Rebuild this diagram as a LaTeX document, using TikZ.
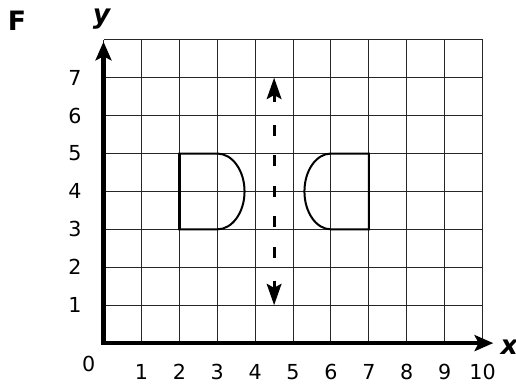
\documentclass[tikz,border=0pt]{standalone}
\usepackage{fontspec}
\setmainfont{DejaVu Sans}
\usetikzlibrary{arrows.meta}
\begin{document}
\begin{tikzpicture}[x=1cm,y=1cm,
  gridline/.style={black!85,line width=0.75pt},
  axisarrow/.style={line width=3.2pt,-{Stealth[length=14pt,width=12pt,inset=3pt]}},
  shapeline/.style={line width=1.5pt},
  dashseg/.style={line width=2.3pt},
  dasharrow/.style={line width=2.3pt,-{Stealth[length=16pt,width=11pt,inset=3pt]}},
  num/.style={font=\fontsize{15.5}{18}\selectfont,inner sep=0pt},
  axlabel/.style={font=\fontsize{20}{24}\selectfont\bfseries\itshape,inner sep=0pt}]
\useasboundingbox (-2.73,-1.108) rectangle (10.88,9.05);
% grid
\draw[gridline] (0,0) grid (10,8);
% axes
\coordinate (O) at (0,0);
\coordinate (Xend) at (10.28,0);
\coordinate (Yend) at (0,7.95);
\draw[axisarrow] (O) -- (Xend);
\draw[axisarrow] (O) -- (Yend);
\draw[line width=3.2pt] (-0.06,0) -- (0.5,0);
\node[axlabel] (xl) at (10.7,-0.1) {x};
\node[axlabel] (yl) at (-0.05,8.55) {y};
\node[font=\fontsize{20}{22}\selectfont\bfseries,inner sep=0pt] (F) at (-2.28,8.5) {F};
% numbers
\node[num] (n0) at (-0.39,-0.55) {0};
\foreach \i in {1,...,10} \node[num] (xn\i) at (\i,-0.77) {\i};
\foreach \i in {1,...,7} \node[num] (yn\i) at (-0.75,\i) {\i};
% D shapes
\draw[shapeline] (2,3) -- (2,5) -- (3,5) arc[start angle=90,end angle=-90,x radius=0.72,y radius=1] -- cycle;
\draw[shapeline] (7,3) -- (7,5) -- (6,5) arc[start angle=90,end angle=270,x radius=0.7,y radius=1] -- cycle;
\draw[line width=2.4pt] (2,3) -- (2,5);
% dashed mirror line
\coordinate (Atop) at (4.5,7);
\coordinate (Abot) at (4.5,1);
\coordinate (Atopb) at (4.5,6.35);
\coordinate (Abotb) at (4.5,1.65);
\draw[dasharrow] (Atopb) -- (Atop);
\draw[dasharrow] (Abotb) -- (Abot);
\foreach \c in {2.39,3.195,4,4.805,5.61}
  \draw[dashseg] (4.5,\c-0.145) -- (4.5,\c+0.145);
\end{tikzpicture}
\end{document}
